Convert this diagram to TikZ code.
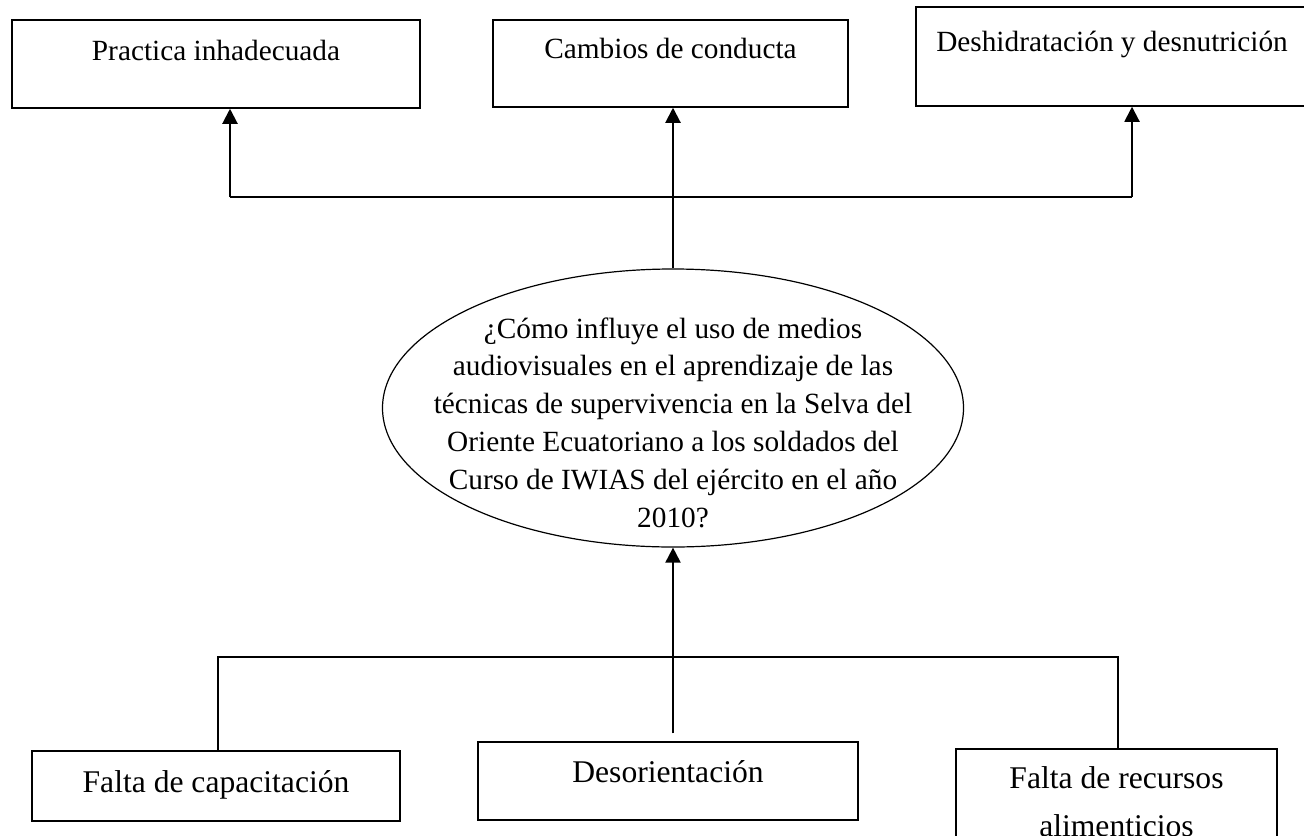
\documentclass[tikz,border=0pt]{standalone}
\usepackage{fontspec}
\setmainfont{Liberation Serif}
\usetikzlibrary{arrows.meta,shapes.geometric}

\tikzset{
  efecto/.style={draw, line width=0.75pt, inner sep=0pt},
  causa/.style={draw, line width=0.7pt, inner sep=0pt},
  pregunta/.style={draw, ellipse, line width=0.6pt, inner sep=0pt,
    minimum width=290.5pt, minimum height=139pt},
  texto/.style={anchor=base, inner sep=0pt, font=\fontsize{14.65}{18.9}\selectfont},
  textogrande/.style={anchor=base, inner sep=0pt, font=\fontsize{15.8}{24}\selectfont},
  flecha/.style={line width=1pt, -{Triangle[length=7.5pt,width=7.5pt]}},
  linea/.style={line width=0.65pt}
}

\begin{document}
\begin{tikzpicture}[x=0.5pt, y=-0.5pt]
	\useasboundingbox (0,0) rectangle (1304,835);
	\clip (0,0) rectangle (1304,835);
	% efectos
	\node[efecto, minimum width=204pt, minimum height=44pt] (e1) at (216,64) {};
	\node[efecto, minimum width=177.5pt, minimum height=43.5pt] (e2) at (670.5,63.5) {};
	\node[efecto, minimum width=196pt, minimum height=49.5pt] (e3) at (1112,56.5) {};
	\node[texto] (e1t) at (216,60) {Practica inhadecuada};
	\node[texto] (e2t) at (670.5,58) {Cambios de conducta};
	\node[texto] (e3t) at (1112,51) {Deshidratación y desnutrición};
	% problema (base = ultima linea)
	\node[pregunta] (q) at (673,408) {};
	\node[texto, align=center] (qt) at (673,527) {¿Cómo influye el uso de medios\\
		audiovisuales en el aprendizaje de las\\
		técnicas de supervivencia en la Selva del\\
		Oriente Ecuatoriano a los soldados del\\
		Curso de IWIAS del ejército en el año\\
		2010?};
	% causas
	\node[causa, minimum width=184pt, minimum height=35pt] (c1) at (216,786) {};
	\node[causa, minimum width=190pt, minimum height=39pt] (c2) at (668,781) {};
	\node[causa, minimum width=160.5pt, minimum height=60.5pt] (c3) at (1116.5,809.5) {};
	\node[textogrande] (c1t) at (216,792) {Falta de capacitación};
	\node[textogrande] (c2t) at (668,782) {Desorientación};
	\node[textogrande, align=center] (c3t) at (1116.5,836) {Falta de recursos\\ alimenticios};
	% conectores de arriba
	\coordinate (hl) at (230,197);
	\coordinate (hr) at (1132,197);
	\draw[linea, line width=0.8pt] (hl) -- (hr);
	\draw[flecha] (hl) -- (hl |- e1.south);
	\draw[flecha] (hr) -- (hr |- e3.south);
	\draw[flecha] (q.north) -- (q.north |- e2.south);
	% conectores de abajo
	\coordinate (bl) at (218,657);
	\coordinate (br) at (1118,657);
	\draw[linea] (bl |- c1.north) -- (bl) -- (br) -- (br |- c3.north);
	\draw[flecha] ([yshift=4pt]q.south |- c2.north) -- (q.south);
\end{tikzpicture}
\end{document}
